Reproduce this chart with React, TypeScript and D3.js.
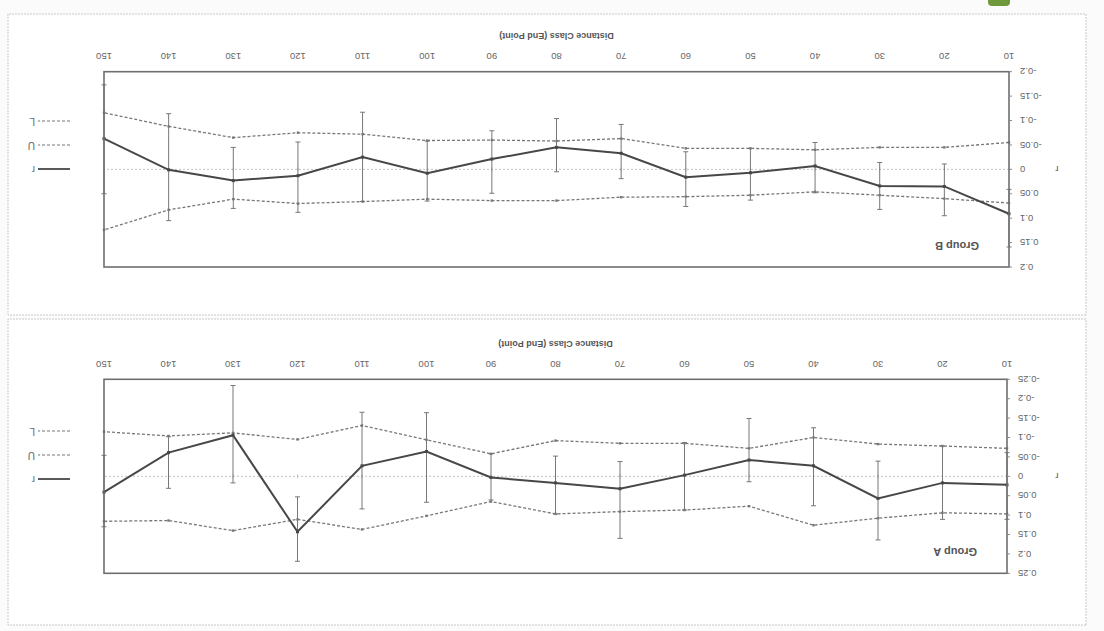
import React, { useEffect } from 'react';
import * as d3 from 'd3';

const distances = [10, 20, 30, 40, 50, 60, 70, 80, 90, 100, 110, 120, 130, 140, 150];

// Group A
const groupA_r = [0.022, 0.017, 0.057, -0.027, -0.042, -0.003, 0.032, 0.017, 0.003, -0.064, -0.027, 0.143, -0.106, -0.061, 0.041];
const groupA_U = [0.097, 0.094, 0.108, 0.126, 0.077, 0.087, 0.091, 0.097, 0.065, 0.102, 0.137, 0.111, 0.140, 0.114, 0.116];
const groupA_L = [-0.072, -0.078, -0.083, -0.100, -0.072, -0.085, -0.085, -0.092, -0.058, -0.094, -0.131, -0.095, -0.112, -0.104, -0.115];
const groupA_errLo = [-0.061, -0.078, -0.039, -0.125, -0.149, -0.087, -0.038, -0.052, -0.058, -0.164, -0.165, 0.053, -0.234, -0.102, -0.054];
const groupA_errHi = [0.111, 0.111, 0.164, 0.076, 0.014, 0.087, 0.160, 0.097, 0.061, 0.067, 0.084, 0.219, 0.017, 0.031, 0.130];

// Group B
const groupB_r = [0.091, 0.035, 0.034, -0.007, 0.007, 0.016, -0.033, -0.045, -0.021, 0.008, -0.025, 0.013, 0.023, 0.001, -0.063];
const groupB_U = [0.069, 0.060, 0.053, 0.046, 0.053, 0.056, 0.057, 0.064, 0.064, 0.061, 0.066, 0.070, 0.061, 0.083, 0.124];
const groupB_L = [-0.055, -0.045, -0.045, -0.040, -0.043, -0.043, -0.063, -0.058, -0.060, -0.059, -0.072, -0.075, -0.065, -0.088, -0.116];
const groupB_errLo = [0.041, -0.011, -0.014, -0.055, -0.043, -0.036, -0.092, -0.104, -0.079, -0.058, -0.117, -0.056, -0.045, -0.114, -0.173];
const groupB_errHi = [0.159, 0.095, 0.082, 0.048, 0.063, 0.076, 0.019, 0.005, 0.049, 0.065, 0.066, 0.088, 0.080, 0.105, 0.050];

const yTicksA = [-0.25, -0.2, -0.15, -0.1, -0.05, 0, 0.05, 0.1, 0.15, 0.2, 0.25];
const yTicksB = [-0.2, -0.15, -0.1, -0.05, 0, 0.05, 0.1, 0.15, 0.2];
const legendLabels = ['r', 'U', 'L'];
const xTitle = 'Distance Class (End Point)';

const W = 1104;
const H = 631;
const FONT = '"Liberation Sans", Arial, sans-serif';

function fmt(v: number) {
  if (Math.abs(v) < 1e-9) return '0';
  return String(+v.toFixed(2));
}

type PanelProps = {
  title: string;
  r: number[]; u: number[]; l: number[]; lo: number[]; hi: number[];
  domain: [number, number];
  ticks: number[];
  box: { x: number; y: number; w: number; h: number };
  plot: { x0: number; x1: number; y0: number; y1: number };
  tickY: number; titleY: number; legendY: number[];
};

function Panel(p: PanelProps) {
  const x = d3.scaleLinear().domain([10, 150]).range([p.plot.x0, p.plot.x1]);
  const y = d3.scaleLinear().domain(p.domain).range([p.plot.y1, p.plot.y0]);
  const line = d3.line<number>().x((_, i) => x(distances[i])).y((d) => y(d));
  const dark = '#474747';
  const mid = '#777';
  const midY = (p.plot.y0 + p.plot.y1) / 2;
  return (
    <g>
      <rect x={p.box.x} y={p.box.y} width={p.box.w} height={p.box.h} fill="#fff" stroke="#c8c8c8" strokeWidth={1} strokeDasharray="2,1" />
      {/* zero line */}
      <line x1={p.plot.x0} x2={p.plot.x1} y1={y(0)} y2={y(0)} stroke="#c4c4c4" strokeWidth={1} strokeDasharray="2,2" />
      {distances.map((d) => (
        <line key={'xt' + d} x1={x(d)} x2={x(d)} y1={y(0) - 2} y2={y(0) + 2} stroke="#c4c4c4" strokeWidth={1} />
      ))}
      {/* error bars */}
      {distances.map((d, i) => (
        <g key={'eb' + d} stroke={mid} strokeWidth={1}>
          <line x1={x(d)} x2={x(d)} y1={y(p.lo[i])} y2={y(p.hi[i])} />
          <line x1={x(d) - 2.5} x2={x(d) + 2.5} y1={y(p.lo[i])} y2={y(p.lo[i])} />
          <line x1={x(d) - 2.5} x2={x(d) + 2.5} y1={y(p.hi[i])} y2={y(p.hi[i])} />
        </g>
      ))}
      {/* U and L */}
      <path d={line(p.u) || ''} fill="none" stroke={mid} strokeWidth={1.3} strokeDasharray="3,2" />
      <path d={line(p.l) || ''} fill="none" stroke={mid} strokeWidth={1.3} strokeDasharray="3,2" />
      {p.u.map((v, i) => (
        <rect key={'um' + i} x={x(distances[i]) - 1.2} y={y(v) - 1.2} width={2.4} height={2.4} fill={mid} />
      ))}
      {p.l.map((v, i) => (
        <rect key={'lm' + i} x={x(distances[i]) - 1.2} y={y(v) - 1.2} width={2.4} height={2.4} fill={mid} />
      ))}
      {/* r */}
      <path d={line(p.r) || ''} fill="none" stroke={dark} strokeWidth={2} />
      {p.r.map((v, i) => (
        <rect key={'rm' + i} x={x(distances[i]) - 1.5} y={y(v) - 1.5} width={3} height={3} fill={dark} />
      ))}
      {/* plot border */}
      <rect x={p.plot.x0} y={p.plot.y0} width={p.plot.x1 - p.plot.x0} height={p.plot.y1 - p.plot.y0} fill="none" stroke="#6e6e6e" strokeWidth={1.6} />
      {/* y ticks */}
      {p.ticks.map((t) => (
        <g key={'yt' + t}>
          <line x1={p.plot.x0 - 3} x2={p.plot.x0} y1={y(t)} y2={y(t)} stroke="#8a8a8a" strokeWidth={1} />
          <text x={p.plot.x0 - 11} y={y(t)} dy="0.35em" textAnchor="end" fontSize={9.5} fill="#666" fontFamily={FONT}>{fmt(t)}</text>
        </g>
      ))}
      {/* x tick labels */}
      {distances.map((d) => (
        <text key={'xl' + d} x={x(d)} y={p.tickY} dy="0.35em" textAnchor="middle" fontSize={9.5} fill="#666" fontFamily={FONT}>{d}</text>
      ))}
      <text x={(p.plot.x0 + p.plot.x1) / 2} y={p.titleY} dy="0.35em" textAnchor="middle" fontSize={9} fontWeight="bold" fill="#555" fontFamily={FONT}>{xTitle}</text>
      {/* y axis label */}
      <text x={47} y={midY} dy="0.35em" textAnchor="middle" fontSize={9.5} fill="#555" fontFamily={FONT}>r</text>
      {/* chart title */}
      <text x={p.plot.x0 + 30} y={p.plot.y0 + 21} dy="0.35em" textAnchor="start" fontSize={11} fontWeight="bold" fill="#555" fontFamily={FONT}>{p.title}</text>
      {/* legend */}
      {legendLabels.map((lab, i) => (
        <g key={'lg' + lab}>
          <line x1={1034} x2={1066} y1={p.legendY[i]} y2={p.legendY[i]} stroke={i === 0 ? dark : mid} strokeWidth={i === 0 ? 1.8 : 1.2} strokeDasharray={i === 0 ? undefined : '3,2'} />
          <text x={1069} y={p.legendY[i]} dy="0.35em" textAnchor="start" fontSize={10} fill="#666" fontFamily={FONT}>{lab}</text>
        </g>
      ))}
    </g>
  );
}

export default function App() {
  useEffect(() => {
    document.body.style.margin = '0';
  }, []);
  return (
    <svg width={W} height={H} style={{ display: 'block', position: 'absolute', left: 0, top: 0, background: '#fbfbfb' }}>
      <rect x={0} y={0} width={W} height={H} fill="#fbfbfb" />
      <g transform={`rotate(180 ${W / 2} ${H / 2})`}>
        <Panel
          title="Group A"
          r={groupA_r} u={groupA_U} l={groupA_L} lo={groupA_errLo} hi={groupA_errHi}
          domain={[-0.25, 0.25]}
          ticks={yTicksA}
          box={{ x: 18, y: 6, w: 1078, h: 306 }}
          plot={{ x0: 97, x1: 1000, y0: 57.7, y1: 251.7 }}
          tickY={267} titleY={287} legendY={[152, 176, 200]}
        />
        <Panel
          title="Group B"
          r={groupB_r} u={groupB_U} l={groupB_L} lo={groupB_errLo} hi={groupB_errHi}
          domain={[-0.2, 0.2]}
          ticks={yTicksB}
          box={{ x: 18, y: 316, w: 1078, h: 301 }}
          plot={{ x0: 95, x1: 1000, y0: 364, y1: 559.3 }}
          tickY={575} titleY={595} legendY={[462, 486, 510]}
        />
        <rect x={94} y={625} width={22} height={12} rx={4} fill="#6f9a3c" />
      </g>
    </svg>
  );
}
